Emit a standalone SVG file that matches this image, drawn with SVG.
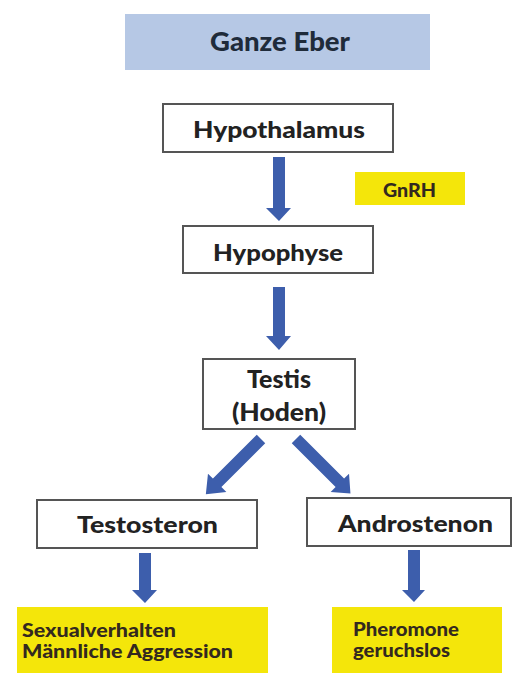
<svg xmlns="http://www.w3.org/2000/svg" width="512" height="673" viewBox="0 0 512 673">
<style>
.box{fill:#ffffff;stroke:#555555;stroke-width:2}
.yel{fill:#f4e60a}
.t{font-family:"Lato","Liberation Sans",sans-serif;font-weight:900;fill:#222222}
.ty{fill:#33291f}
.arr{fill:#3d5eac}
</style>
<rect width="512" height="673" fill="#ffffff"/>
<g id="title">
<rect x="125" y="14" width="305" height="56" fill="#b6c8e5"/>
<text class="t" x="210" y="51" font-size="26" style="fill:#1f2b3a" textLength="140" lengthAdjust="spacingAndGlyphs">Ganze Eber</text>
</g>
<g id="hypothalamus">
<rect class="box" x="163" y="104" width="230" height="48"/>
<text class="t" x="193" y="138" font-size="23" textLength="172" lengthAdjust="spacingAndGlyphs">Hypothalamus</text>
</g>
<g id="gnrh">
<rect class="yel" x="355" y="172" width="110" height="33"/>
<text class="t ty" x="383" y="197" font-size="18" textLength="53" lengthAdjust="spacingAndGlyphs">GnRH</text>
</g>
<g id="hypophyse">
<rect class="box" x="183" y="226" width="190" height="47"/>
<text class="t" x="213" y="261" font-size="23" textLength="130" lengthAdjust="spacingAndGlyphs">Hypophyse</text>
</g>
<g id="testis">
<rect class="box" x="203" y="359" width="152" height="70"/>
<text class="t" x="247" y="388" font-size="24" textLength="64" lengthAdjust="spacingAndGlyphs">Testis</text>
<text class="t" x="232" y="421" font-size="24" textLength="94" lengthAdjust="spacingAndGlyphs">(Hoden)</text>
</g>
<g id="testosteron">
<rect class="box" x="37" y="500" width="220" height="48"/>
<text class="t" x="77" y="533" font-size="23" textLength="141" lengthAdjust="spacingAndGlyphs">Testosteron</text>
</g>
<g id="androstenon">
<rect class="box" x="307" y="498" width="204" height="48"/>
<text class="t" x="338" y="532" font-size="23" textLength="155" lengthAdjust="spacingAndGlyphs">Androstenon</text>
</g>
<g id="sexualverhalten">
<rect class="yel" x="17" y="607" width="251" height="66"/>
<text class="t ty" x="22" y="637" font-size="19" textLength="154" lengthAdjust="spacingAndGlyphs">Sexualverhalten</text>
<text class="t ty" x="22" y="658" font-size="19" textLength="211" lengthAdjust="spacingAndGlyphs">Männliche Aggression</text>
</g>
<g id="pheromone">
<rect class="yel" x="332" y="607" width="170" height="66"/>
<text class="t ty" x="353" y="636" font-size="19" textLength="106" lengthAdjust="spacingAndGlyphs">Pheromone</text>
<text class="t ty" x="353" y="657" font-size="19" textLength="97" lengthAdjust="spacingAndGlyphs">geruchslos</text>
</g>
<g id="connectors">
<polygon class="arr" points="273,157 285,157 285,208 291,208 279,221 266,208 273,208"/>
<polygon class="arr" points="273,287 285,287 285,336 291,336 279,350 266,336 273,336"/>
<polygon class="arr" transform="translate(261,439) rotate(135)" points="0,-6 62,-6 62,-13 78,0 62,13 62,6 0,6"/>
<polygon class="arr" transform="translate(296,439) rotate(45)" points="0,-6 62,-6 62,-13 77,0 62,13 62,6 0,6"/>
<polygon class="arr" points="139,553 151,553 151,590 157,590 145,603 132,590 139,590"/>
<polygon class="arr" points="408,550 420,550 420,590 425,590 414,602 402,590 408,590"/>
</g>
</svg>
